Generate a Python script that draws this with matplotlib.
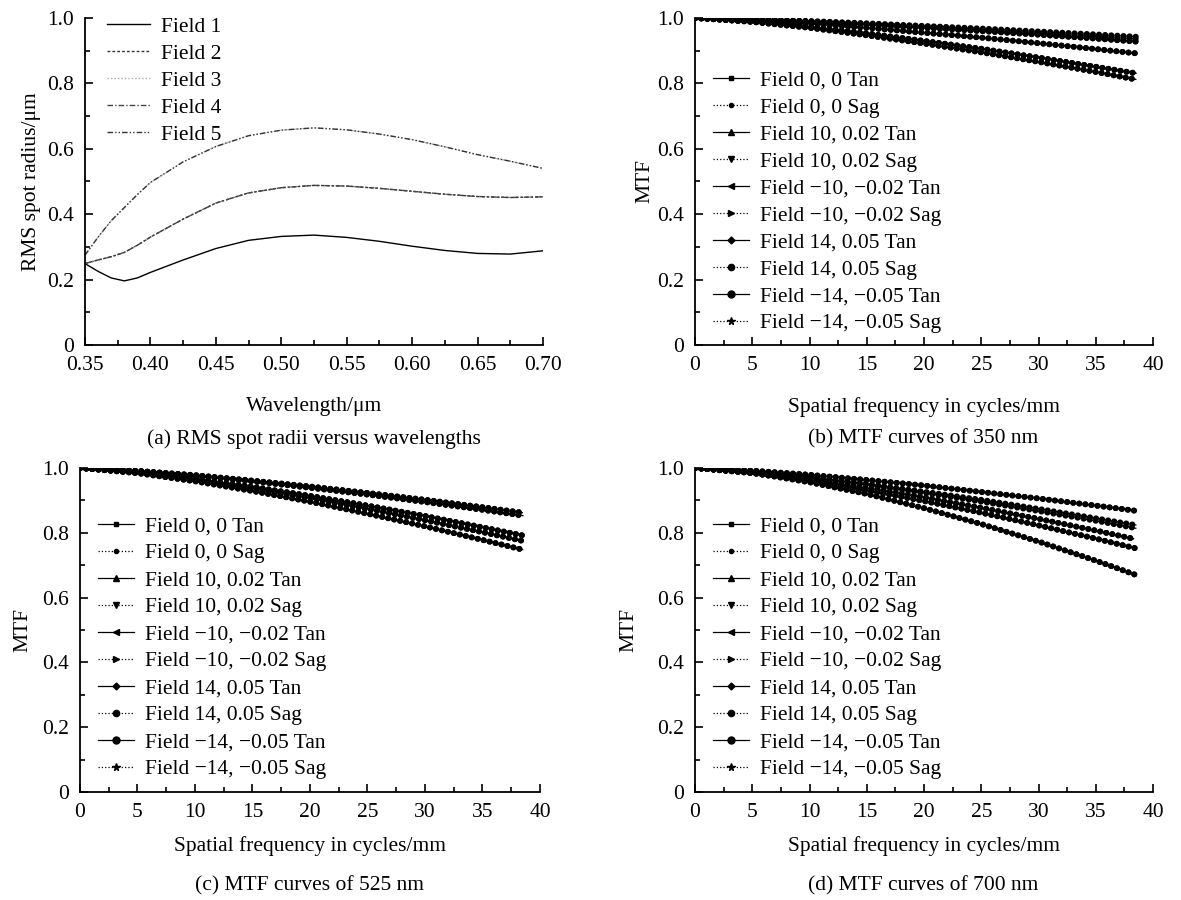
import matplotlib.pyplot as plt
from matplotlib.lines import Line2D
from matplotlib.ticker import MultipleLocator, FuncFormatter

plt.rcParams['font.family'] = ['Liberation Serif', 'DejaVu Serif']
plt.rcParams['font.size'] = 15.5

# ---- (a) RMS spot radius vs wavelength ----
wavelength = [0.35, 0.36, 0.37, 0.38, 0.39, 0.40, 0.425, 0.45, 0.475, 0.50,
              0.525, 0.55, 0.575, 0.60, 0.625, 0.65, 0.675, 0.70]
field1 = [0.249, 0.225, 0.205, 0.196, 0.205, 0.222, 0.260, 0.295, 0.320, 0.332,
          0.336, 0.329, 0.317, 0.302, 0.289, 0.280, 0.278, 0.288]
field2 = [0.249, 0.260, 0.270, 0.283, 0.305, 0.330, 0.385, 0.434, 0.465, 0.481,
          0.488, 0.486, 0.479, 0.470, 0.461, 0.454, 0.451, 0.453]
field3 = [0.275, 0.330, 0.380, 0.420, 0.460, 0.497, 0.560, 0.607, 0.640, 0.657,
          0.664, 0.658, 0.645, 0.628, 0.606, 0.582, 0.562, 0.540]
field4 = [0.249, 0.260, 0.270, 0.283, 0.305, 0.330, 0.385, 0.434, 0.465, 0.481,
          0.488, 0.486, 0.479, 0.470, 0.461, 0.454, 0.451, 0.453]
field5 = [0.275, 0.330, 0.380, 0.420, 0.460, 0.497, 0.560, 0.607, 0.640, 0.657,
          0.664, 0.658, 0.645, 0.628, 0.606, 0.582, 0.562, 0.540]
spot_labels = ['Field 1', 'Field 2', 'Field 3', 'Field 4', 'Field 5']

# ---- MTF curves ----
freq = [0, 5, 10, 15, 20, 25, 30, 35, 38.5]
mtf_labels = ['Field 0, 0 Tan', 'Field 0, 0 Sag',
              'Field 10, 0.02 Tan', 'Field 10, 0.02 Sag',
              'Field \u221210, \u22120.02 Tan', 'Field \u221210, \u22120.02 Sag',
              'Field 14, 0.05 Tan', 'Field 14, 0.05 Sag',
              'Field \u221214, \u22120.05 Tan', 'Field \u221214, \u22120.05 Sag']

# 350 nm
f0_350 = [1.000, 0.988, 0.970, 0.947, 0.922, 0.895, 0.866, 0.835, 0.812]
f10t_350 = [1.000, 0.989, 0.973, 0.953, 0.930, 0.906, 0.879, 0.851, 0.831]
f10s_350 = [1.000, 0.996, 0.991, 0.984, 0.976, 0.968, 0.959, 0.950, 0.943]
fm10s_350 = [1.000, 0.996, 0.990, 0.982, 0.974, 0.964, 0.954, 0.944, 0.936]
f14t_350 = [1.000, 0.995, 0.988, 0.980, 0.970, 0.960, 0.949, 0.937, 0.928]
f14s_350 = [1.000, 0.993, 0.983, 0.970, 0.955, 0.940, 0.923, 0.905, 0.892]
mtf_350 = [f0_350, f0_350, f10t_350, f10s_350, f10t_350, fm10s_350,
           f14t_350, f14s_350, f14t_350, f14s_350]

# 525 nm
f0_525 = [1.000, 0.984, 0.959, 0.929, 0.896, 0.859, 0.820, 0.778, 0.748]
f10t_525 = [1.000, 0.987, 0.966, 0.942, 0.914, 0.884, 0.852, 0.817, 0.792]
f10s_525 = [1.000, 0.991, 0.978, 0.961, 0.943, 0.923, 0.902, 0.879, 0.862]
f14t_525 = [1.000, 0.991, 0.976, 0.959, 0.939, 0.918, 0.895, 0.871, 0.853]
f14s_525 = [1.000, 0.986, 0.964, 0.937, 0.907, 0.874, 0.839, 0.802, 0.775]
mtf_525 = [f0_525, f0_525, f10t_525, f10s_525, f10t_525, f10s_525,
           f14t_525, f14s_525, f14t_525, f14s_525]

# 700 nm
f0_700 = [1.000, 0.984, 0.960, 0.931, 0.898, 0.862, 0.823, 0.782, 0.752]
f10t_700 = [1.000, 0.985, 0.956, 0.920, 0.876, 0.827, 0.773, 0.714, 0.670]
f10s_700 = [1.000, 0.992, 0.979, 0.963, 0.946, 0.926, 0.906, 0.884, 0.868]
f14t_700 = [1.000, 0.989, 0.972, 0.951, 0.927, 0.902, 0.874, 0.845, 0.824]
fm14t_700 = [1.000, 0.988, 0.970, 0.948, 0.923, 0.896, 0.867, 0.837, 0.814]
f14s_700 = [1.000, 0.986, 0.964, 0.938, 0.909, 0.877, 0.843, 0.807, 0.780]
mtf_700 = [f0_700, f0_700, f10t_700, f10s_700, f10t_700, f10s_700,
           f14t_700, f14s_700, fm14t_700, f14s_700]

markers = ['s', 'o', '^', 'v', '<', '>', 'D', 'o', 'o', '*']
msizes = [3.5, 3, 4.5, 4.5, 4.5, 4.5, 3.5, 4.5, 5, 5.5]


def style_axes(ax):
    for s in ['top', 'right']:
        ax.spines[s].set_visible(False)
    for s in ['left', 'bottom']:
        ax.spines[s].set_linewidth(1.3)
    ax.tick_params(which='both', direction='in', top=False, right=False, width=1.2)
    ax.tick_params(which='major', length=6, pad=8)
    ax.tick_params(which='minor', length=3.5)
    ax.set_ylim(0, 1.0)
    ax.yaxis.set_major_locator(MultipleLocator(0.2))
    ax.yaxis.set_minor_locator(MultipleLocator(0.1))
    ax.yaxis.set_major_formatter(FuncFormatter(lambda v, p: '0' if abs(v) < 1e-9 else '%.1f' % v))


fig = plt.figure(figsize=(11.81, 9), dpi=100)

# (a)
ax = fig.add_axes([0.072, 0.6167, 0.3878, 0.3633])
styles = ['-', (0, (2, 1.5)), (0, (1, 1.5)), (0, (4, 1.5, 1, 1.5)), (0, (4, 1.5, 1, 1.5, 1, 1.5))]
colors = ['black', '#333333', '#aaaaaa', '#444444', '#333333']
for ys, ls, c, lab in zip([field1, field2, field3, field4, field5], styles, colors, spot_labels):
    ax.plot(wavelength, ys, color=c, lw=1.0, ls=ls, label=lab)
style_axes(ax)
ax.set_xlim(0.35, 0.70)
ax.xaxis.set_major_locator(MultipleLocator(0.05))
ax.xaxis.set_minor_locator(MultipleLocator(0.025))
ax.xaxis.set_major_formatter(FuncFormatter(lambda v, p: '%.2f' % v))
ax.set_xlabel('Wavelength/\u03bcm', labelpad=16)
ax.set_ylabel('RMS spot radius/\u03bcm', labelpad=4)
ax.legend(loc='upper left', bbox_to_anchor=(0.03, 1.03), frameon=False,
          handlelength=2.0, handletextpad=0.5, labelspacing=0.32, borderaxespad=0)

# MTF panels: rect, curves, xlabel pad, ylabel pad, legend top
panels = [
    ([0.5885, 0.6167, 0.3878, 0.3633], mtf_350, 16, 1.5, 0.865),
    ([0.0677, 0.12, 0.3895, 0.36], mtf_525, 10, 7, 0.877),
    ([0.5885, 0.12, 0.3878, 0.36], mtf_700, 10, 13, 0.877),
]
for rect, curves, xpad, ypad, ly in panels:
    ax = fig.add_axes(rect)
    handles = []
    for i, ys in enumerate(curves):
        tan = (i % 2 == 0)
        ls = '-' if tan else ':'
        ax.plot(freq, ys, color='black', lw=0.9, ls=ls)
        ax.plot(freq, ys, color='black', lw=4.2, ls=(0, (0.05, 1.0)),
                dash_capstyle='round')
        handles.append(Line2D([], [], color='black', lw=0.9, ls=ls,
                              marker=markers[i], markersize=msizes[i]))
    style_axes(ax)
    ax.set_xlim(0, 40)
    ax.xaxis.set_major_locator(MultipleLocator(5))
    ax.xaxis.set_minor_locator(MultipleLocator(2.5))
    ax.set_xlabel('Spatial frequency in cycles/mm', labelpad=xpad)
    ax.set_ylabel('MTF', labelpad=ypad)
    ax.legend(handles, mtf_labels, loc='upper left', bbox_to_anchor=(0.02, ly),
              frameon=False, handlelength=1.7, handletextpad=0.5,
              labelspacing=0.32, borderaxespad=0)

fig.text(0.266, 1 - 439 / 900, '(a) RMS spot radii versus wavelengths', ha='center', va='center')
fig.text(0.782, 1 - 439 / 900, '(b) MTF curves of 350 nm', ha='center', va='center')
fig.text(0.262, 1 - 886 / 900, '(c) MTF curves of 525 nm', ha='center', va='center')
fig.text(0.782, 1 - 886 / 900, '(d) MTF curves of 700 nm', ha='center', va='center')

fig.savefig('out.png', dpi=100)
